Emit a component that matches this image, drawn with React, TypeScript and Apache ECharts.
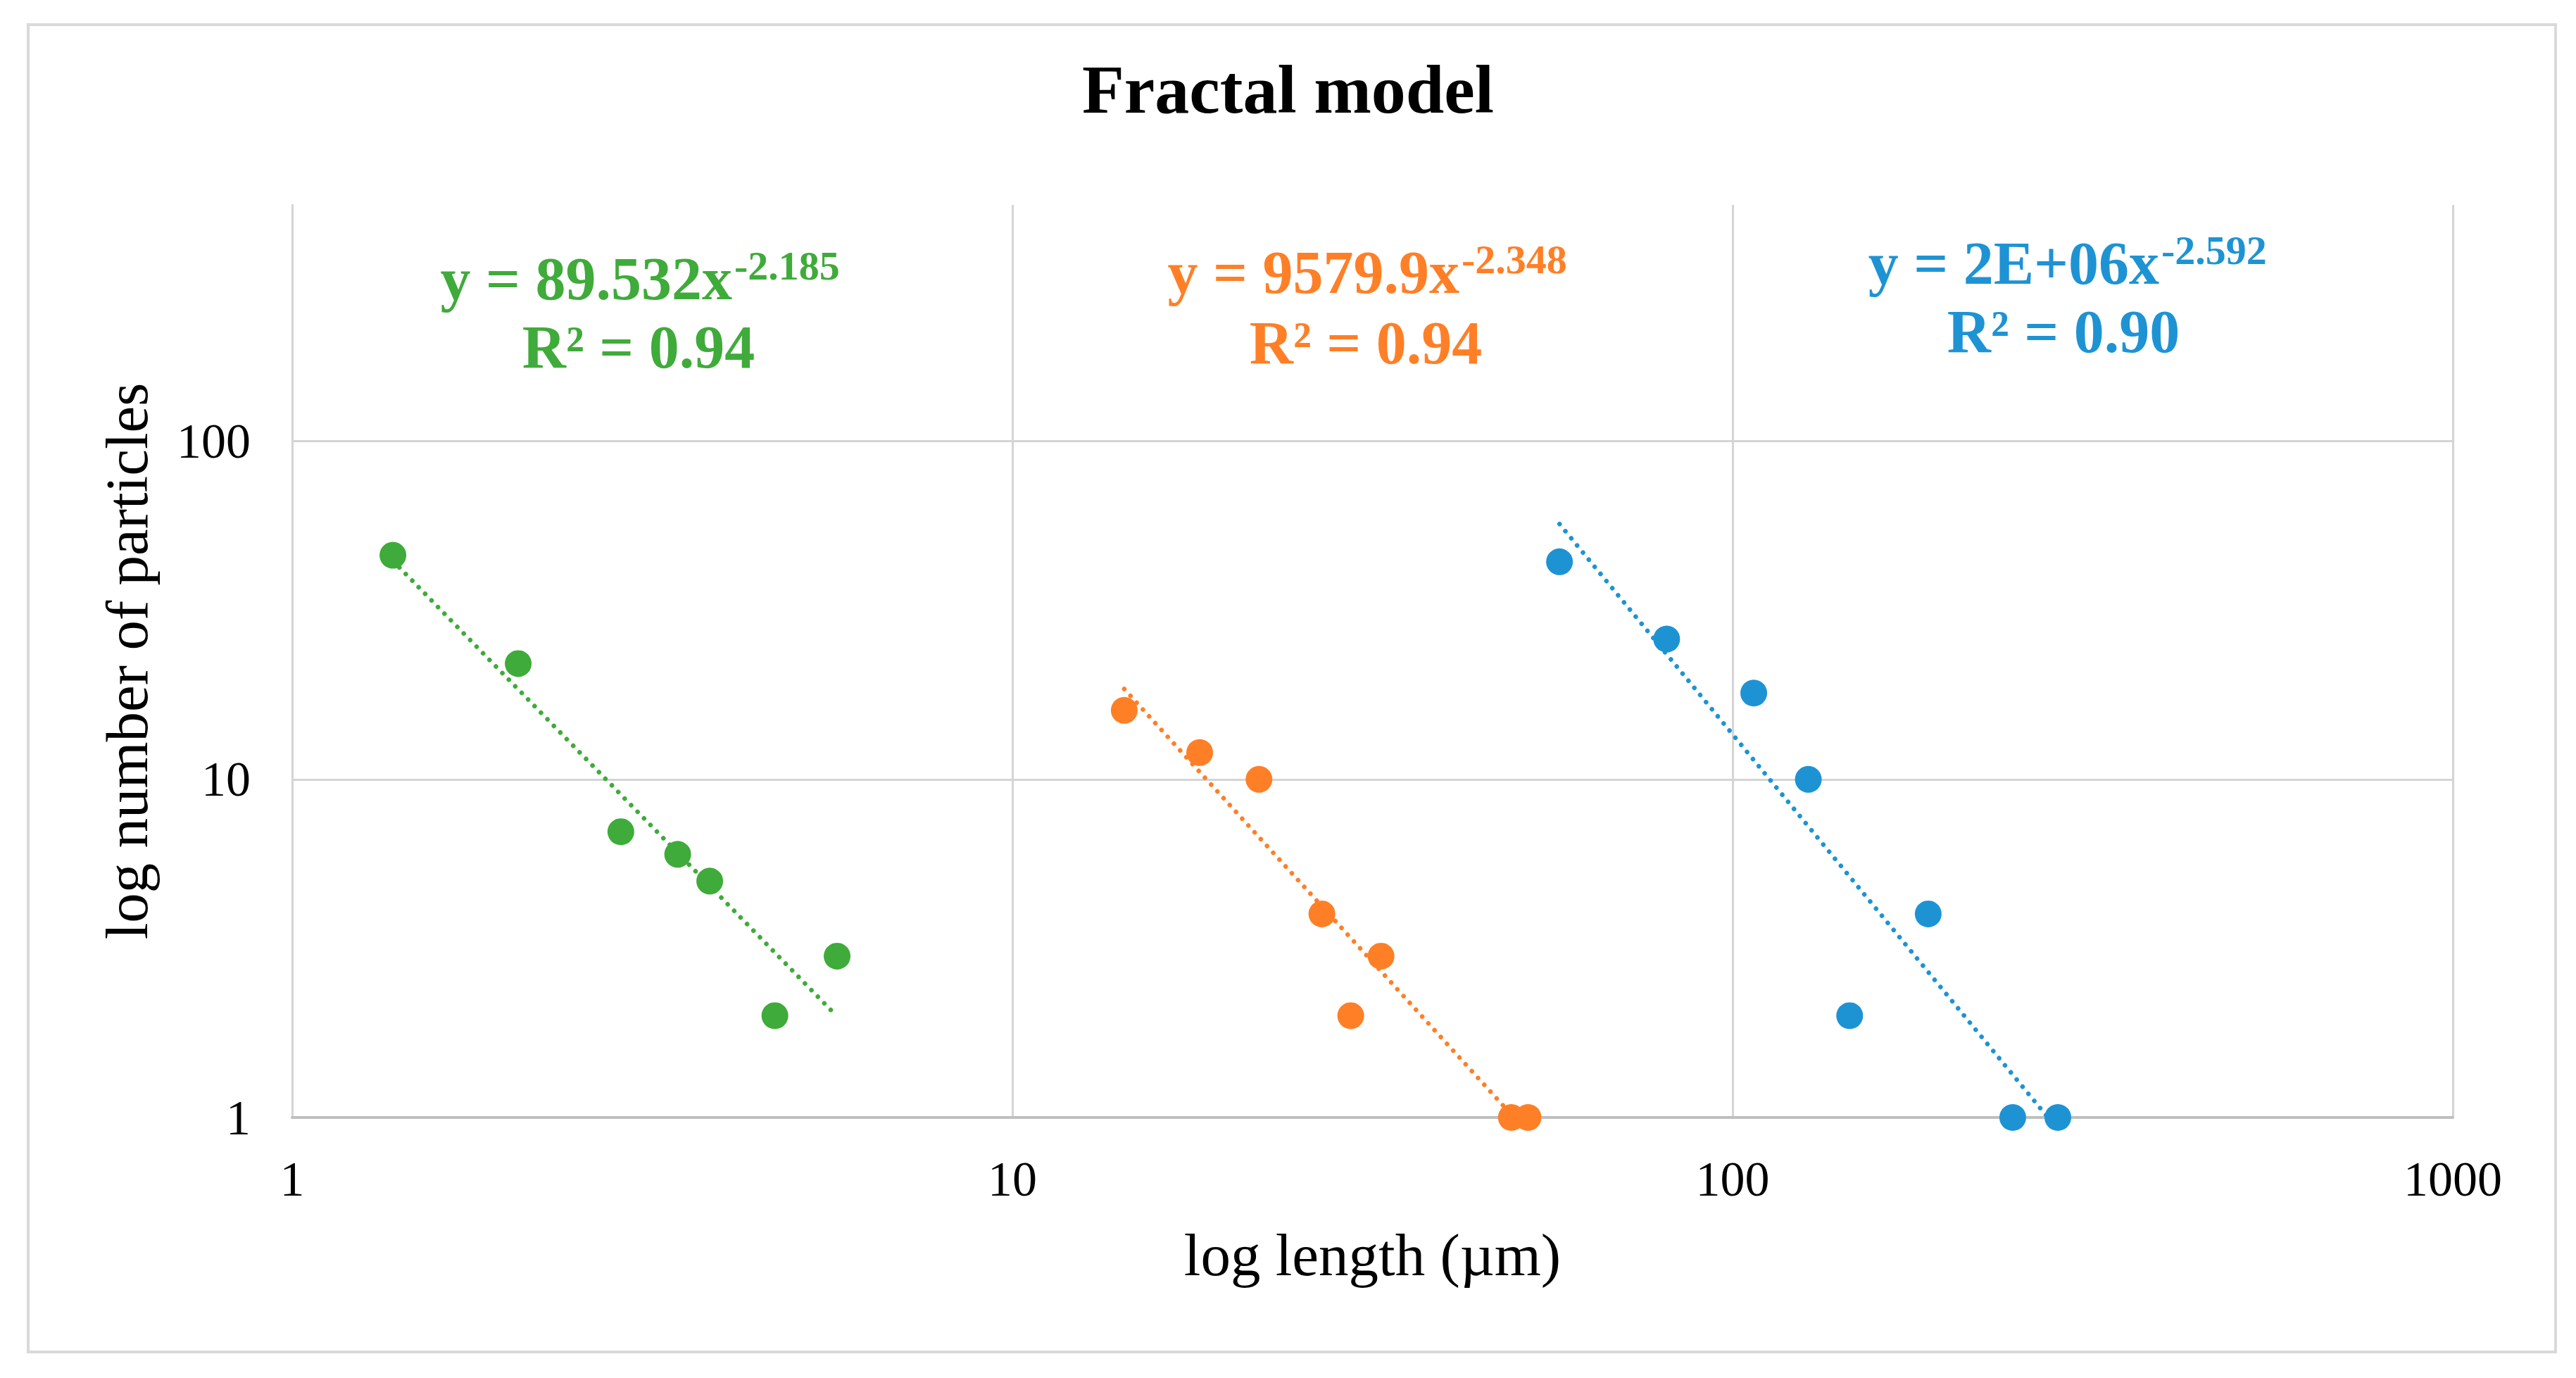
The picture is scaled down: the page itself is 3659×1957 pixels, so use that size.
import React, { useEffect, useRef } from "react";
import * as echarts from "echarts";

// ---- data ----
const greenX = [1.38, 2.06, 2.86, 3.43, 3.8, 4.68, 5.71];
const greenY = [46, 22, 7, 6, 5, 2, 3];
const orangeX = [14.3, 18.2, 22, 26.9, 32.5, 29.5, 49.3, 52];
const orangeY = [16, 12, 10, 4, 3, 2, 1, 1];
const blueX = [57.5, 81, 107, 127.4, 186.9, 145.4, 244.9, 282.9];
const blueY = [44, 26, 18, 10, 4, 2, 1, 1];

// trendline end points (power fits shown on the chart)
const greenTrendX = [1.38, 5.71];
const greenTrendY = [44.3, 1.99];
const orangeTrendX = [14.3, 52];
const orangeTrendY = [18.5, 0.9];
const blueTrendX = [57.5, 283];
const blueTrendY = [56.9, 0.92];

const xTickLabels = ["1", "10", "100", "1000"];
const yTickLabels = ["1", "10", "100"];

const titleText = "Fractal model";
const xAxisTitle = "log length (µm)";
const yAxisTitle = "log number of particles";

const greenEq = { main: "y = 89.532x", sup: "-2.185", r2: "R² = 0.94" };
const orangeEq = { main: "y = 9579.9x", sup: "-2.348", r2: "R² = 0.94" };
const blueEq = { main: "y = 2E+06x", sup: "-2.592", r2: "R² = 0.90" };

const GREEN = "#3fab3a";
const ORANGE = "#ff7f27";
const BLUE = "#1e93d4";
const SERIF = "'Liberation Serif', 'Times New Roman', serif";

const zip = (xs: number[], ys: number[]) => xs.map((x, i) => [x, ys[i]]);

function labelFor(list: string[]) {
  return (v: number) => {
    const s = String(Math.round(v));
    return list.indexOf(s) >= 0 ? s : "";
  };
}

function eqGraphics(
  eq: { main: string; sup: string; r2: string },
  color: string,
  splitX: number,
  centerX: number,
  baseline1: number,
  baseline2: number
) {
  const fs = 86;
  const sfs = 58;
  return [
    {
      type: "text",
      x: splitX,
      y: baseline1 - 0.34 * fs,
      style: {
        text: eq.main,
        fill: color,
        fontFamily: SERIF,
        fontSize: fs,
        fontWeight: "bold",
        align: "right",
        verticalAlign: "middle",
      },
    },
    {
      type: "text",
      x: splitX + 3,
      y: baseline1 - 28 - 0.34 * sfs,
      style: {
        text: eq.sup,
        fill: color,
        fontFamily: SERIF,
        fontSize: sfs,
        fontWeight: "bold",
        align: "left",
        verticalAlign: "middle",
      },
    },
    {
      type: "text",
      x: centerX,
      y: baseline2 - 0.34 * fs,
      style: {
        text: eq.r2,
        fill: color,
        fontFamily: SERIF,
        fontSize: fs,
        fontWeight: "bold",
        align: "center",
        verticalAlign: "middle",
      },
    },
  ];
}

function trend(name: string, xs: number[], ys: number[], color: string) {
  return {
    name,
    type: "line",
    data: zip(xs, ys),
    showSymbol: false,
    symbol: "none",
    clip: true,
    z: 3,
    lineStyle: { color, width: 6.5, type: [0.1, 13], cap: "round" },
  };
}

function scatter(name: string, xs: number[], ys: number[], color: string) {
  return {
    name,
    type: "scatter",
    data: zip(xs, ys),
    symbol: "circle",
    symbolSize: 38,
    z: 4,
    itemStyle: { color, opacity: 1 },
  };
}

export default function App() {
  const ref = useRef<HTMLDivElement>(null);
  useEffect(() => {
    document.body.style.margin = "0";
    if (!ref.current) return;
    const chart = echarts.init(ref.current, null, { renderer: "svg" });
    chart.setOption({
      animation: false,
      backgroundColor: "#ffffff",
      title: {
        text: titleText,
        left: "center",
        top: 73,
        textStyle: {
          fontFamily: SERIF,
          fontSize: 98,
          fontWeight: "bold",
          color: "#000",
        },
      },
      grid: { left: 415, right: 175, top: 291, bottom: 370, containLabel: false },
      xAxis: {
        type: "log",
        logBase: 10,
        min: 1,
        max: 1000,
        name: xAxisTitle,
        nameLocation: "middle",
        nameGap: 152,
        nameTextStyle: { fontFamily: SERIF, fontSize: 85, color: "#000" },
        axisLine: { show: true, lineStyle: { color: "#bfbfbf", width: 4 } },
        axisTick: { show: false },
        axisLabel: {
          fontFamily: SERIF,
          fontSize: 70,
          color: "#000",
          margin: 52,
          formatter: labelFor(xTickLabels),
        },
        splitLine: { show: true, lineStyle: { color: "#d4d4d4", width: 3 } },
        minorTick: { show: false },
      },
      yAxis: {
        type: "log",
        logBase: 10,
        min: 1,
        max: 500,
        name: yAxisTitle,
        nameLocation: "middle",
        nameGap: 193,
        nameTextStyle: { fontFamily: SERIF, fontSize: 85, color: "#000" },
        axisLine: { show: true, lineStyle: { color: "#d4d4d4", width: 3 } },
        axisTick: { show: false },
        axisLabel: {
          fontFamily: SERIF,
          fontSize: 70,
          color: "#000",
          margin: 59,
          showMaxLabel: false,
          formatter: labelFor(yTickLabels),
        },
        splitLine: {
          show: true,
          showMaxLine: false,
          lineStyle: { color: "#d4d4d4", width: 3 },
        },
      },
      series: [
        trend("green trend", greenTrendX, greenTrendY, GREEN),
        trend("orange trend", orangeTrendX, orangeTrendY, ORANGE),
        trend("blue trend", blueTrendX, blueTrendY, BLUE),
        scatter("green", greenX, greenY, GREEN),
        scatter("orange", orangeX, orangeY, ORANGE),
        scatter("blue", blueX, blueY, BLUE),
      ],
      graphic: [
        {
          type: "rect",
          shape: { x: 40, y: 35, width: 3590, height: 1885 },
          style: { fill: "none", stroke: "#d9d9d9", lineWidth: 4 },
          z: -1,
        },
        ...eqGraphics(greenEq, GREEN, 1040, 907, 425, 522),
        ...eqGraphics(orangeEq, ORANGE, 2073, 1940, 416, 516),
        ...eqGraphics(blueEq, BLUE, 3067, 2931, 403, 500),
      ],
    });
    return () => chart.dispose();
  }, []);
  return <div ref={ref} style={{ width: 3659, height: 1957 }} />;
}
